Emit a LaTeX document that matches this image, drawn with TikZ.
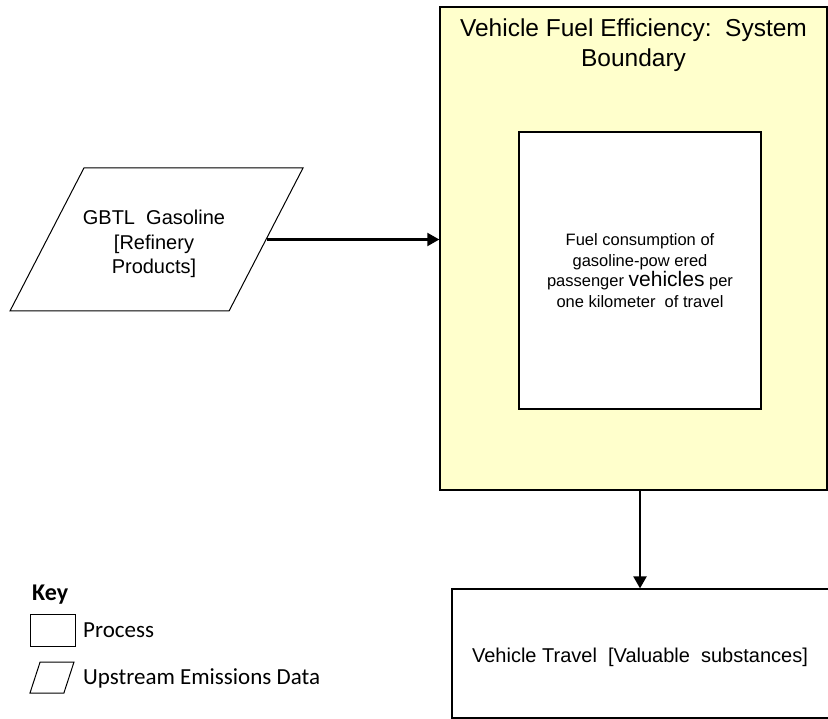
\documentclass[tikz,border=0pt]{standalone}
\usepackage{fontspec}
\setmainfont{Liberation Sans}
\newfontfamily\keyfont{Carlito}
\usetikzlibrary{arrows.meta,positioning,shapes.geometric,calc}
\definecolor{bndYellow}{HTML}{FFFFCC}
\tikzset{
  boundary/.style={draw=black, fill=bndYellow, line width=1.4pt,
        minimum width=387pt, minimum height=483pt, inner sep=0pt},
  procbox/.style={draw=black, fill=white, line width=1.2pt,
        align=center, inner sep=0pt},
  upstream/.style={draw=black, fill=white, line width=1pt, trapezium,
        trapezium left angle=63, trapezium right angle=117,
        trapezium stretches=true, align=center, inner sep=2pt},
  flowarrow/.style={-{Triangle[length=12pt,width=13pt]}, line width=2.2pt},
  keylab/.style={anchor=west, inner sep=0pt,
        font=\keyfont\fontsize{23}{25}\selectfont}
}

\begin{document}
\begin{tikzpicture}[x=1pt, y=-1pt]
\useasboundingbox (0,0) rectangle (828,719);

% system boundary and its process
\node[boundary] (bound) at (633.5,248.5) {};
\node[align=center, font=\fontsize{24.5}{30}\selectfont] (title) at (633.5,45)
  {Vehicle Fuel Efficiency:\ \ System\\Boundary};
\node[procbox, minimum width=242pt, minimum height=277pt,
      font=\fontsize{16.5}{20.5}\selectfont] (fuel) at (640,270.5)
  {Fuel consumption of\\gasoline-pow ered\\passenger {\fontsize{21}{20}\selectfont vehicles} per\\one kilometer\ \ of travel};

% input and output
\node[upstream, minimum width=293pt, minimum height=143pt] (gas) at (156.5,239.5) {};
\node[align=center, font=\fontsize{20}{24.5}\selectfont] (gastext) at (154,244)
  {GBTL\ \ Gasoline\\{}[Refinery\\Products]};
\node[procbox, minimum width=378pt, minimum height=129pt] (travel) at (641,653.5) {};
\node[font=\fontsize{20}{22}\selectfont] (traveltext) at (640,657)
  {Vehicle Travel\ \ [Valuable\ \ substances]};

\draw[flowarrow] (gas.east) -- (gas.east -| bound.west);
\draw[flowarrow] (bound.south -| traveltext) -- (travel.north -| traveltext);

% key
\node[keylab, font=\keyfont\bfseries\fontsize{24}{26}\selectfont] (key) at (32,595) {Key};
\node[draw=black, line width=1pt, minimum width=45pt, minimum height=32pt,
      inner sep=0pt] (keyproc) at (52.5,630) {};
\node[keylab] (keyproclab) at (83,630) {Process};
\node[draw=black, line width=1pt, trapezium, trapezium left angle=67,
      trapezium right angle=113, trapezium stretches=true,
      minimum width=44pt, minimum height=31pt, inner sep=2pt] (keyup) at (52,677.5) {};
\node[keylab] (keyuplab) at (83,678) {Upstream Emissions Data};
\end{tikzpicture}
\end{document}
